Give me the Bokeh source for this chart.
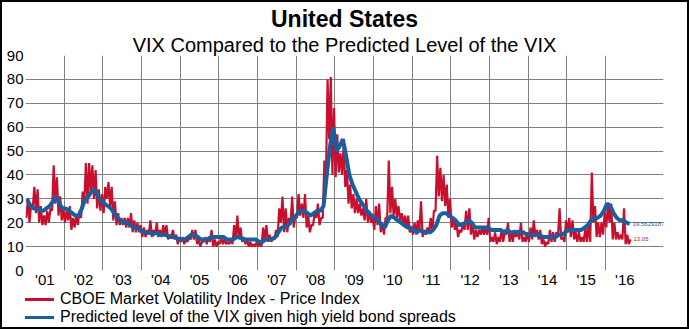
import numpy as np
from bokeh.plotting import figure
from bokeh.layouts import column
from bokeh.models import Range1d, FixedTicker, Legend, LegendItem, Title, ColumnDataSource
from bokeh.core.properties import value
from bokeh.embed import file_html
from bokeh.resources import INLINE

start_year = 2001

# Monthly low / high of the CBOE VIX (Jan 2001 - Aug 2016)
vix_low = [
    22, 20, 26, 24, 20, 19, 19, 20, 25, 28, 23, 21,   # 2001
    20, 21, 17, 18, 19, 22, 28, 28, 33, 30, 26, 25,   # 2002
    24, 30, 27, 21, 19, 19, 19, 18, 18, 16, 16, 16,   # 2003
    14, 14, 15, 14, 15, 14, 14, 15, 13, 14, 13, 11,   # 2004
    12, 11, 12, 13, 13, 11, 10, 12, 11, 12, 10, 10,   # 2005
    11, 11, 11, 11, 11, 13, 13, 12, 11, 10, 10, 10,   # 2006
    10, 10, 13, 12, 12, 13, 14, 20, 16, 16, 19, 18,   # 2007
    22, 23, 22, 18, 16, 19, 22, 19, 22, 39, 55, 40,   # 2008
    39, 41, 40, 35, 28, 26, 24, 24, 23, 21, 20, 20,   # 2009
    17, 19, 16, 15, 22, 24, 23, 22, 21, 19, 18, 16,   # 2010
    15, 15, 17, 14, 15, 16, 16, 25, 31, 29, 27, 22,   # 2011
    18, 17, 14, 16, 17, 17, 15, 13, 14, 15, 15, 15,   # 2012
    12, 12, 11, 12, 12, 15, 12, 12, 14, 13, 12, 12,   # 2013
    12, 13, 14, 13, 11, 10, 11, 12, 12, 14, 13, 12,   # 2014
    16, 14, 13, 12, 12, 12, 12, 12, 20, 14, 14, 15,   # 2015
    18, 20, 13, 13, 13, 13, 11, 11,                   # 2016
]
vix_high = [
    30, 28, 35, 34, 27, 23, 25, 26, 44, 39, 31, 26,   # 2001
    25, 27, 22, 23, 25, 33, 45, 45, 44, 42, 34, 32,   # 2002
    35, 37, 35, 29, 24, 22, 22, 22, 24, 21, 20, 19,   # 2003
    18, 17, 21, 17, 20, 17, 19, 19, 15, 17, 15, 14,   # 2004
    14, 13, 14, 17, 17, 13, 12, 14, 14, 17, 13, 12,   # 2005
    14, 13, 12, 13, 19, 23, 18, 14, 13, 12, 11, 12,   # 2006
    12, 18, 19, 15, 14, 17, 26, 31, 26, 22, 31, 23,   # 2007
    32, 28, 32, 23, 19, 24, 28, 22, 46, 80, 81, 68,   # 2008
    57, 49, 53, 42, 36, 32, 30, 28, 26, 30, 25, 22,   # 2009
    27, 28, 20, 22, 46, 35, 30, 27, 24, 23, 23, 18,   # 2010
    20, 21, 29, 17, 18, 22, 25, 48, 43, 40, 36, 30,   # 2011
    22, 20, 17, 20, 25, 26, 20, 17, 17, 18, 18, 22,   # 2012
    14, 16, 14, 17, 16, 20, 16, 17, 17, 20, 14, 16,   # 2013
    18, 21, 17, 17, 13, 12, 17, 16, 16, 26, 14, 21,   # 2014
    22, 21, 16, 16, 14, 18, 20, 41, 27, 20, 20, 24,   # 2015
    28, 28, 20, 16, 15, 26, 15, 13,                   # 2016
]
# Monthly predicted level of the VIX given high yield bond spreads
predicted = [
    30, 27, 26, 26, 25, 25, 26, 27, 29, 31, 28, 26,   # 2001
    26, 25, 24, 23, 23, 26, 30, 31, 33, 34, 31, 29,   # 2002
    28, 27, 26, 24, 22, 21, 20, 20, 19, 18, 18, 17,   # 2003
    16, 16, 16, 15, 16, 15, 15, 15, 14, 14, 14, 13,   # 2004
    13, 13, 14, 15, 15, 14, 13, 13, 13, 14, 14, 14,   # 2005
    14, 14, 13, 13, 13, 14, 14, 13, 13, 13, 13, 13,   # 2006
    12, 12, 13, 13, 13, 14, 16, 18, 18, 19, 21, 22,   # 2007
    24, 25, 25, 24, 23, 24, 25, 25, 27, 40, 52, 60,   # 2008
    50, 52, 55, 48, 40, 36, 33, 30, 28, 26, 24, 23,   # 2009
    22, 21, 19, 18, 21, 23, 22, 21, 20, 19, 18, 18,   # 2010
    17, 16, 17, 16, 16, 16, 17, 19, 23, 24, 24, 23,   # 2011
    22, 21, 19, 19, 20, 21, 20, 18, 18, 18, 18, 18,   # 2012
    17, 17, 17, 17, 16, 17, 16, 16, 16, 16, 16, 15,   # 2013
    15, 15, 15, 15, 14, 14, 14, 14, 14, 15, 15, 16,   # 2014
    17, 17, 17, 17, 17, 18, 19, 21, 22, 22, 23, 25,   # 2015
    28, 27, 24, 22, 21, 21, 20, 19.5,                 # 2016
]
year_labels = ["'01", "'02", "'03", "'04", "'05", "'06", "'07", "'08",
               "'09", "'10", "'11", "'12", "'13", "'14", "'15", "'16"]
y_ticks = [0, 10, 20, 30, 40, 50, 60, 70, 80, 90]
y_grid = [10, 20, 30, 40, 50, 60, 70, 80]
vix_last_label = "13.05"
pred_last_label = "19.5629187"
series_names = ["CBOE Market Volatility Index - Price Index",
                "Predicted level of the VIX given high yield bond spreads"]

FONT = "Liberation Sans"
RED = "#C8102E"
BLUE = "#1B5E9E"

n = len(predicted)
m = np.arange(n)
blue_x = start_year + (m + 0.5) / 12.0
red_x = np.empty(2 * n)
red_y = np.empty(2 * n)
red_x[0::2] = start_year + (m + 0.25) / 12.0
red_x[1::2] = start_year + (m + 0.75) / 12.0
red_y[0::2] = vix_low
red_y[1::2] = vix_high

p = figure(width=685, height=288, output_backend="svg", toolbar_location=None,
           x_range=Range1d(start_year, start_year + 16.5), y_range=Range1d(0, 90),
           min_border_left=23, min_border_right=24, min_border_top=53, min_border_bottom=20)
p.outline_line_color = None
p.background_fill_color = "white"
p.border_fill_color = "white"

# grids
p.xgrid.ticker = FixedTicker(ticks=[start_year + k for k in range(1, 16)])
p.ygrid.ticker = FixedTicker(ticks=y_grid)
for g in (p.xgrid, p.ygrid):
    g.grid_line_color = "#808080"
    g.grid_line_width = 1

# axes
p.yaxis.ticker = FixedTicker(ticks=y_ticks)
p.xaxis.ticker = FixedTicker(ticks=[start_year + k + 0.5 for k in range(len(year_labels))])
p.xaxis.major_label_overrides = {start_year + k + 0.5: lab for k, lab in enumerate(year_labels)}
for ax in (p.xaxis, p.yaxis):
    ax.axis_line_color = None
    ax.major_tick_line_color = None
    ax.minor_tick_line_color = None
    ax.major_tick_out = 0
    ax.major_tick_in = 0
    ax.minor_tick_out = 0
    ax.minor_tick_in = 0
    ax.major_label_text_font = FONT
    ax.major_label_text_font_size = "15px"
    ax.major_label_text_color = "black"
p.yaxis.major_label_standoff = 2
p.xaxis.major_label_standoff = 0

p.line(red_x, red_y, line_color=RED, line_width=2.2)
p.line(blue_x, predicted, line_color=BLUE, line_width=4)

# end-value labels
end_src = ColumnDataSource(dict(x=[red_x[-1], blue_x[-1]], y=[red_y[-1], predicted[-1]],
                                t=[vix_last_label, pred_last_label], c=[RED, BLUE]))
p.text(x="x", y="y", text="t", text_color="c", source=end_src, x_offset=3,
       text_font=value(FONT), text_font_size="6px", text_baseline="middle")

p.add_layout(Title(text="VIX Compared to the Predicted Level of the VIX", align="center",
                   text_font=FONT, text_font_size="20px", text_font_style="normal",
                   text_color="black", standoff=0, offset=0), "above")
p.add_layout(Title(text="United States", align="center",
                   text_font=FONT, text_font_size="23px", text_font_style="bold",
                   text_color="black", standoff=0, offset=0), "above")

# legend strip below the chart (series drawn outside its visible range)
lg = figure(width=685, height=37, output_backend="svg", toolbar_location=None,
            x_axis_type=None, y_axis_type=None,
            x_range=Range1d(start_year, start_year + 16.5), y_range=Range1d(-20, -10),
            min_border_left=0, min_border_right=0, min_border_top=0, min_border_bottom=0)
lg.grid.visible = False
lg.outline_line_color = None
lr = lg.line(red_x, red_y, line_color=RED, line_width=3)
lb = lg.line(blue_x, predicted, line_color=BLUE, line_width=3)
legend = Legend(items=[LegendItem(label=series_names[0], renderers=[lr]),
                       LegendItem(label=series_names[1], renderers=[lb])],
                location=(-1, 1), orientation="vertical",
                label_text_font=FONT, label_text_font_size="16px", label_text_color="black",
                glyph_width=30, glyph_height=18, label_height=18, label_standoff=6,
                spacing=0, padding=0, margin=0, border_line_color=None,
                background_fill_alpha=0)
lg.add_layout(legend, "center")

page = column(p, lg, spacing=0, styles={"border": "2px solid black"})
open("out.html", "w").write(file_html(page, INLINE))
